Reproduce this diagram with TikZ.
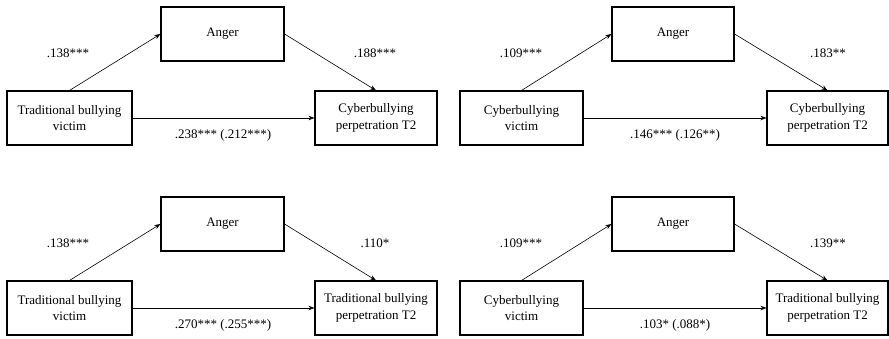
\documentclass[tikz,border=0pt]{standalone}
\usepackage{fontspec}
\setmainfont{Liberation Serif}
\usetikzlibrary{arrows.meta}
\begin{document}
\begin{tikzpicture}[x=1pt,y=-1pt,
  box/.style={draw,line width=1.1pt,minimum height=54pt,inner sep=0pt,align=center,font=\fontsize{13}{16.5}\selectfont},
  lbl/.style={font=\fontsize{13}{16}\selectfont,inner sep=0pt},
  arr/.style={-{Stealth[length=6pt,width=4.5pt]},line width=0.6pt}]
\useasboundingbox (0,0) rectangle (889,338);
% panel 1
\node[box,minimum width=123pt] (a1) at (222.5,34) {Anger};
\node[box,minimum width=125pt] (l1) at (69.5,118) {Traditional bullying\\victim};
\node[box,minimum width=122pt] (r1) at (376,118) {Cyberbullying\\perpetration T2};
\draw[arr] (l1.north) -- (a1.west);
\draw[arr] (a1.east) -- (r1.north);
\draw[arr] (l1.east) -- (r1.west);
\node[lbl] (p1a) at (68,53) {.138***};
\node[lbl] (p1b) at (375,53) {.188***};
\node[lbl] (p1c) at (223,135) {.238*** (.212***)};
% panel 2
\node[box,minimum width=122pt] (a2) at (673,34) {Anger};
\node[box,minimum width=123pt] (l2) at (521.5,118) {Cyberbullying\\victim};
\node[box,minimum width=121pt] (r2) at (827.5,118) {Cyberbullying\\perpetration T2};
\draw[arr] (l2.north) -- (a2.west);
\draw[arr] (a2.east) -- (r2.north);
\draw[arr] (l2.east) -- (r2.west);
\node[lbl] (p2a) at (521,53) {.109***};
\node[lbl] (p2b) at (828,53) {.183**};
\node[lbl] (p2c) at (675,135) {.146*** (.126**)};
% panel 3
\node[box,minimum width=123pt] (a3) at (222.5,224) {Anger};
\node[box,minimum width=125pt] (l3) at (69.5,308) {Traditional bullying\\victim};
\node[box,minimum width=122pt] (r3) at (376,308) {Traditional bullying\\perpetration T2};
\draw[arr] (l3.north) -- (a3.west);
\draw[arr] (a3.east) -- (r3.north);
\draw[arr] (l3.east) -- (r3.west);
\node[lbl] (p3a) at (68,243) {.138***};
\node[lbl] (p3b) at (375,243) {.110*};
\node[lbl] (p3c) at (223,325) {.270*** (.255***)};
% panel 4
\node[box,minimum width=122pt] (a4) at (673,224) {Anger};
\node[box,minimum width=123pt] (l4) at (521.5,308) {Cyberbullying\\victim};
\node[box,minimum width=121pt] (r4) at (827.5,308) {Traditional bullying\\perpetration T2};
\draw[arr] (l4.north) -- (a4.west);
\draw[arr] (a4.east) -- (r4.north);
\draw[arr] (l4.east) -- (r4.west);
\node[lbl] (p4a) at (521,243) {.109***};
\node[lbl] (p4b) at (828,243) {.139**};
\node[lbl] (p4c) at (675,325) {.103* (.088*)};
\end{tikzpicture}
\end{document}
